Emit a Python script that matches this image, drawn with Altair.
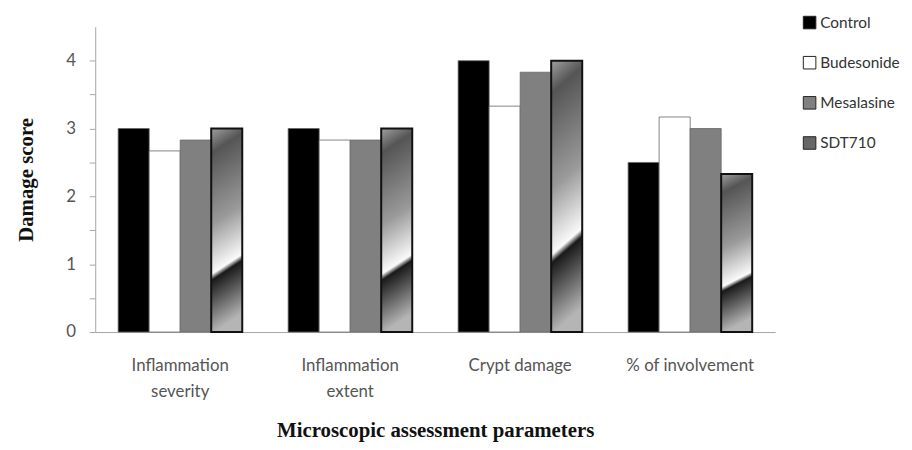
import altair as alt
import pandas as pd

categories = ["Inflammation severity", "Inflammation extent", "Crypt damage", "% of involvement"]
series = ["Control", "Budesonide", "Mesalasine", "SDT710"]
control = [3.0, 3.0, 4.0, 2.5]
budesonide = [2.67, 2.83, 3.33, 3.17]
mesalasine = [2.83, 2.83, 3.83, 3.0]
sdt710 = [3.0, 3.0, 4.0, 2.33]
colors = ["#000000", "#ffffff", "#808080", "#666666"]

rows = []
for s, vals in zip(series, [control, budesonide, mesalasine, sdt710]):
    for c, v in zip(categories, vals):
        rows.append({"category": c, "series": s, "value": v})
df = pd.DataFrame(rows)

x_enc = alt.X("category:N", sort=categories, title="Microscopic assessment parameters",
              scale=alt.Scale(paddingInner=0.27, paddingOuter=0.135),
              axis=alt.Axis(labelAngle=0, ticks=False, labelPadding=26, labelLineHeight=26,
                            labelExpr="indexof(datum.label, 'Inflammation') == 0 ? split(datum.label, ' ') : datum.label",
                            titlePadding=20))
xo_enc = alt.XOffset("series:N", sort=series,
                     scale=alt.Scale(domain=series, paddingInner=0, paddingOuter=0))
y_enc = alt.Y("value:Q", title="Damage score",
              scale=alt.Scale(domain=[0, 4.5], nice=False),
              axis=alt.Axis(values=[0, 0.5, 1, 1.5, 2, 2.5, 3, 3.5, 4], grid=False, tickSize=6,
                            labelPadding=14, titlePadding=29,
                            labelExpr="datum.value % 1 == 0 ? format(datum.value, 'd') : ''"))

base = alt.Chart(df).mark_bar(stroke="#666666", strokeWidth=0.8).encode(
    x=x_enc,
    xOffset=xo_enc,
    y=y_enc,
    color=alt.Color("series:N", sort=series,
                    scale=alt.Scale(domain=series, range=colors),
                    legend=alt.Legend(title=None, orient="none", legendX=713, legendY=-12,
                                      symbolType="square", symbolSize=160,
                                      symbolStrokeColor="#222222", symbolStrokeWidth=1,
                                      symbolOpacity=1,
                                      labelFont="Lato", labelFontSize=15.5, labelColor="#333333",
                                      labelOffset=3, rowPadding=22.5, labelLimit=200)),
)

grad = {
    "gradient": "linear", "x1": 0, "y1": 0, "x2": 0.1, "y2": 1,
    "stops": [
        {"offset": 0.0, "color": "#a0a0a0"},
        {"offset": 0.12, "color": "#555555"},
        {"offset": 0.47, "color": "#9a9a9a"},
        {"offset": 0.71, "color": "#fafafa"},
        {"offset": 0.74, "color": "#1a1a1a"},
        {"offset": 1.0, "color": "#b5b5b5"},
    ],
}

sdt = alt.Chart(df).transform_filter(alt.datum.series == "SDT710").mark_bar(
    fill=grad, stroke="#111111", strokeWidth=2
).encode(x=x_enc, xOffset=xo_enc, y=y_enc)

chart = alt.layer(base, sdt).properties(
    width=686, height=308,
    autosize=alt.AutoSizeParams(type="none"),
    padding={"left": 88, "top": 17, "right": 130, "bottom": 109},
).configure_view(stroke=None).configure_axis(
    domainColor="#a6a6a6", tickColor="#a6a6a6",
    labelFont="Lato", labelFontSize=17, labelColor="#555555",
    titleFont="Liberation Serif", titleFontSize=21, titleFontWeight="bold", titleColor="#111111",
)

chart.save("out.html", embed_options={"renderer": "svg", "actions": False})
